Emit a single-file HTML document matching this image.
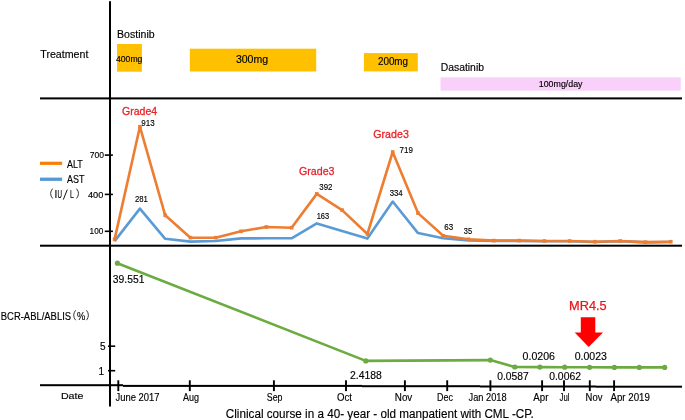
<!DOCTYPE html>
<html><head><meta charset="utf-8"><style>
html,body{margin:0;padding:0;background:#fff;width:685px;height:420px;overflow:hidden}
svg{display:block;will-change:transform}
text{font-family:"Liberation Sans",sans-serif;stroke:currentColor;stroke-width:0.15px}
</style></head><body>
<svg width="685" height="420" viewBox="0 0 685 420">
<rect width="685" height="420" fill="#fff"/>
<rect x="117.1" y="44" width="24.8" height="27.7" fill="#FFC000"/>
<rect x="189.8" y="48.7" width="126.4" height="22.8" fill="#FFC000"/>
<rect x="363.9" y="53.1" width="53.9" height="18.3" fill="#FFC000"/>
<rect x="440.5" y="77.3" width="240.3" height="13.4" fill="#F9D0FA"/>
<rect x="109" y="1.2" width="2" height="405.3" fill="#000"/>
<rect x="40" y="97.4" width="642" height="2" fill="#000"/>
<rect x="40" y="244.7" width="642" height="2" fill="#000"/>
<rect x="40" y="384.2" width="83" height="2" fill="#000"/>
<rect x="123" y="384.9" width="239" height="2" fill="#000"/>
<rect x="362" y="385.2" width="118" height="2" fill="#000"/>
<rect x="480" y="385.5" width="116" height="2" fill="#000"/>
<rect x="596" y="385.7" width="86" height="2" fill="#000"/>
<rect x="104.8" y="154.3" width="8.1" height="1.6" fill="#000"/>
<rect x="104.8" y="193.6" width="8.1" height="1.6" fill="#000"/>
<rect x="104.8" y="230.5" width="8.1" height="1.6" fill="#000"/>
<rect x="108" y="345.4" width="7.2" height="1.6" fill="#000"/>
<rect x="108" y="369.9" width="7.2" height="1.6" fill="#000"/>
<rect x="117.35" y="380.3" width="1.9" height="10.8" fill="#000"/>
<rect x="188.85" y="380.3" width="1.9" height="10.8" fill="#000"/>
<rect x="272.95" y="380.3" width="1.9" height="10.8" fill="#000"/>
<rect x="345.05" y="380.3" width="1.9" height="10.8" fill="#000"/>
<rect x="403.95" y="380.3" width="1.9" height="10.8" fill="#000"/>
<rect x="446.25" y="380.3" width="1.9" height="10.8" fill="#000"/>
<rect x="489.45" y="380.3" width="1.9" height="10.8" fill="#000"/>
<rect x="541.15" y="380.3" width="1.9" height="10.8" fill="#000"/>
<rect x="563.05" y="380.3" width="1.9" height="10.8" fill="#000"/>
<rect x="588.85" y="380.3" width="1.9" height="10.8" fill="#000"/>
<rect x="613.15" y="380.3" width="1.9" height="10.8" fill="#000"/>
<rect x="40" y="161.7" width="22.1" height="3.2" fill="#F77F05"/>
<rect x="40" y="177.6" width="22.1" height="3.3" fill="#5299D6"/>
<polyline points="114.6,241.1 139.9,208.6 165.2,238.8 190.4,241.6 215.7,241.0 241.0,238.4 266.3,238.3 291.6,238.3 316.8,223.4 342.1,231.0 367.4,238.6 392.7,201.5 418.0,233.1 443.2,238.3 468.5,240.4 493.8,240.9 519.1,240.9 544.4,241.3 569.6,241.3 594.9,242.0 620.2,241.3 645.5,242.4 670.8,242.0" fill="none" stroke="#5B9BD5" stroke-width="2.6" stroke-linejoin="round"/>
<polyline points="114.6,239.4 139.9,126.7 165.2,215.3 190.4,237.7 215.7,237.7 241.0,231.3 266.3,227.0 291.6,227.7 316.8,193.9 342.1,210.1 367.4,234.0 392.7,152.0 418.0,213.1 443.2,235.8 468.5,239.3 493.8,240.6 519.1,240.6 544.4,241.0 569.6,241.0 594.9,241.7 620.2,241.0 645.5,242.1 670.8,241.7" fill="none" stroke="#ED7D31" stroke-width="2.6" stroke-linejoin="round"/>
<rect x="112.8" y="237.6" width="3.6" height="3.6" fill="#ED7D31"/>
<rect x="138.1" y="124.9" width="3.6" height="3.6" fill="#ED7D31"/>
<rect x="163.4" y="213.5" width="3.6" height="3.6" fill="#ED7D31"/>
<rect x="188.6" y="235.9" width="3.6" height="3.6" fill="#ED7D31"/>
<rect x="213.9" y="235.9" width="3.6" height="3.6" fill="#ED7D31"/>
<rect x="239.2" y="229.5" width="3.6" height="3.6" fill="#ED7D31"/>
<rect x="264.5" y="225.2" width="3.6" height="3.6" fill="#ED7D31"/>
<rect x="289.8" y="225.9" width="3.6" height="3.6" fill="#ED7D31"/>
<rect x="315.0" y="192.1" width="3.6" height="3.6" fill="#ED7D31"/>
<rect x="340.3" y="208.3" width="3.6" height="3.6" fill="#ED7D31"/>
<rect x="365.6" y="232.2" width="3.6" height="3.6" fill="#ED7D31"/>
<rect x="390.9" y="150.2" width="3.6" height="3.6" fill="#ED7D31"/>
<rect x="416.2" y="211.3" width="3.6" height="3.6" fill="#ED7D31"/>
<rect x="441.4" y="234.0" width="3.6" height="3.6" fill="#ED7D31"/>
<rect x="466.7" y="237.5" width="3.6" height="3.6" fill="#ED7D31"/>
<rect x="492.0" y="238.8" width="3.6" height="3.6" fill="#ED7D31"/>
<rect x="517.3" y="238.8" width="3.6" height="3.6" fill="#ED7D31"/>
<rect x="542.6" y="239.2" width="3.6" height="3.6" fill="#ED7D31"/>
<rect x="567.8" y="239.2" width="3.6" height="3.6" fill="#ED7D31"/>
<rect x="593.1" y="239.9" width="3.6" height="3.6" fill="#ED7D31"/>
<rect x="618.4" y="239.2" width="3.6" height="3.6" fill="#ED7D31"/>
<rect x="643.7" y="240.3" width="3.6" height="3.6" fill="#ED7D31"/>
<rect x="669.0" y="239.9" width="3.6" height="3.6" fill="#ED7D31"/>
<polyline points="117.4,263.2 365.8,360.9 490.3,360.1 514.8,367.0 539.9,367.1 564.7,367.2 589.6,367.3 614.4,367.4 639.3,367.4 664.7,367.4" fill="none" stroke="#6BAB40" stroke-width="2.6" stroke-linejoin="round"/>
<circle cx="117.4" cy="263.2" r="2.6" fill="#6BAB40"/>
<circle cx="365.8" cy="360.9" r="2.6" fill="#6BAB40"/>
<circle cx="490.3" cy="360.1" r="2.6" fill="#6BAB40"/>
<circle cx="514.8" cy="367" r="2.6" fill="#6BAB40"/>
<circle cx="539.9" cy="367.1" r="2.6" fill="#6BAB40"/>
<circle cx="564.7" cy="367.2" r="2.6" fill="#6BAB40"/>
<circle cx="589.6" cy="367.3" r="2.6" fill="#6BAB40"/>
<circle cx="614.4" cy="367.4" r="2.6" fill="#6BAB40"/>
<circle cx="639.3" cy="367.4" r="2.6" fill="#6BAB40"/>
<circle cx="664.7" cy="367.4" r="2.6" fill="#6BAB40"/>
<polygon points="580.8,317.2 595.3,317.2 595.3,332.5 603,332.5 588.7,347 574.7,332.5 580.8,332.5" fill="#FF0000"/>
<text x="117.1" y="37.5" font-size="10" fill="#000" color="#000" textLength="37.5" lengthAdjust="spacingAndGlyphs">Bostinib</text>
<text x="40.3" y="58.1" font-size="10.5" fill="#000" color="#000" textLength="48.1" lengthAdjust="spacingAndGlyphs">Treatment</text>
<text x="116" y="61.6" font-size="8.2" fill="#000" color="#000" textLength="26.4" lengthAdjust="spacingAndGlyphs">400mg</text>
<text x="235.9" y="62.5" font-size="10.3" fill="#000" color="#000" textLength="32.2" lengthAdjust="spacingAndGlyphs">300mg</text>
<text x="378" y="64.7" font-size="10" fill="#000" color="#000" textLength="30" lengthAdjust="spacingAndGlyphs">200mg</text>
<text x="440.7" y="70.5" font-size="10" fill="#000" color="#000" textLength="43.3" lengthAdjust="spacingAndGlyphs">Dasatinib</text>
<text x="538.8" y="86.7" font-size="8.8" fill="#000" color="#000" textLength="43.7" lengthAdjust="spacingAndGlyphs">100mg/day</text>
<text x="89.8" y="157.6" font-size="9" fill="#000" color="#000" textLength="14.2" lengthAdjust="spacingAndGlyphs">700</text>
<text x="87.9" y="197.7" font-size="9" fill="#000" color="#000" textLength="15.4" lengthAdjust="spacingAndGlyphs">400</text>
<text x="89.6" y="233.7" font-size="9" fill="#000" color="#000" textLength="13.7" lengthAdjust="spacingAndGlyphs">100</text>
<text x="67.1" y="167.7" font-size="10" fill="#000" color="#000" textLength="15.7" lengthAdjust="spacingAndGlyphs">ALT</text>
<text x="67.1" y="182.7" font-size="10" fill="#000" color="#000" textLength="17.4" lengthAdjust="spacingAndGlyphs">AST</text>
<path d="M52.6,188.6 Q48.6,193.5 52.6,198.5 M76.5,188.6 Q80.5,193.5 76.5,198.5" fill="none" stroke="#222" stroke-width="0.9"/>
<text x="54.5" y="197.8" font-size="10" fill="#000" color="#000">I</text>
<text x="57.5" y="197.8" font-size="10" fill="#000" color="#000" textLength="4.5" lengthAdjust="spacingAndGlyphs">U</text>
<path d="M67.3,189.6 L63.3,199.6" fill="none" stroke="#111" stroke-width="1"/>
<text x="70.0" y="197.8" font-size="10" fill="#000" color="#000" textLength="3.8" lengthAdjust="spacingAndGlyphs">L</text>
<text x="122" y="114.7" font-size="11.5" fill="#E8232A" color="#E8232A" textLength="35.1" lengthAdjust="spacingAndGlyphs" style="stroke-width:0.3px">Grade4</text>
<text x="299" y="174.8" font-size="11.5" fill="#E8232A" color="#E8232A" textLength="35.5" lengthAdjust="spacingAndGlyphs" style="stroke-width:0.3px">Grade3</text>
<text x="373.3" y="138.4" font-size="11.5" fill="#E8232A" color="#E8232A" textLength="35.5" lengthAdjust="spacingAndGlyphs" style="stroke-width:0.3px">Grade3</text>
<text x="141.3" y="126.3" font-size="9" fill="#000" color="#000" textLength="13.4" lengthAdjust="spacingAndGlyphs">913</text>
<text x="135" y="201.9" font-size="9" fill="#000" color="#000" textLength="12.9" lengthAdjust="spacingAndGlyphs">281</text>
<text x="319.3" y="190" font-size="9" fill="#000" color="#000" textLength="13.1" lengthAdjust="spacingAndGlyphs">392</text>
<text x="316.7" y="219" font-size="9" fill="#000" color="#000" textLength="12.5" lengthAdjust="spacingAndGlyphs">163</text>
<text x="399.6" y="153.2" font-size="9" fill="#000" color="#000" textLength="13.3" lengthAdjust="spacingAndGlyphs">719</text>
<text x="389.7" y="196.1" font-size="9" fill="#000" color="#000" textLength="13" lengthAdjust="spacingAndGlyphs">334</text>
<text x="444.2" y="230.4" font-size="9" fill="#000" color="#000" textLength="8.9" lengthAdjust="spacingAndGlyphs">63</text>
<text x="463.8" y="233.8" font-size="9" fill="#000" color="#000" textLength="8.3" lengthAdjust="spacingAndGlyphs">35</text>
<text x="0.8" y="319.7" font-size="10" fill="#000" color="#000" textLength="70.3" lengthAdjust="spacingAndGlyphs">BCR-ABL/ABLIS</text>
<path d="M75.6,310.3 Q71.8,315.2 75.6,320.2 M86.5,310.3 Q90.3,315.2 86.5,320.2" fill="none" stroke="#222" stroke-width="0.9"/>
<text x="77.0" y="319.7" font-size="10" fill="#000" color="#000" textLength="8.3" lengthAdjust="spacingAndGlyphs">%</text>
<text x="112.8" y="282.8" font-size="10.2" fill="#000" color="#000" textLength="31.6" lengthAdjust="spacingAndGlyphs">39.551</text>
<text x="350" y="379.1" font-size="10.2" fill="#000" color="#000" textLength="31.8" lengthAdjust="spacingAndGlyphs">2.4188</text>
<text x="497.2" y="380" font-size="10.2" fill="#000" color="#000" textLength="31.5" lengthAdjust="spacingAndGlyphs">0.0587</text>
<text x="522.6" y="360" font-size="10.2" fill="#000" color="#000" textLength="32.4" lengthAdjust="spacingAndGlyphs">0.0206</text>
<text x="549.2" y="379.7" font-size="10.2" fill="#000" color="#000" textLength="31.8" lengthAdjust="spacingAndGlyphs">0.0062</text>
<text x="574.7" y="360" font-size="10.2" fill="#000" color="#000" textLength="32.2" lengthAdjust="spacingAndGlyphs">0.0023</text>
<text x="99.9" y="349.8" font-size="10" fill="#000" color="#000">5</text>
<text x="98.6" y="374.8" font-size="10" fill="#000" color="#000">1</text>
<text x="569.1" y="310.4" font-size="13" fill="#EE1418" color="#EE1418" textLength="37.6" lengthAdjust="spacingAndGlyphs" style="stroke-width:0.25px">MR4.5</text>
<text x="60.9" y="398.8" font-size="9.6" fill="#000" color="#000" textLength="22.5" lengthAdjust="spacingAndGlyphs">Date</text>
<text x="115.6" y="400.6" font-size="10.2" fill="#000" color="#000" textLength="43.9" lengthAdjust="spacingAndGlyphs">June 2017</text>
<text x="183.1" y="400.6" font-size="10.2" fill="#000" color="#000" textLength="16.0" lengthAdjust="spacingAndGlyphs">Aug</text>
<text x="266.8" y="400.6" font-size="10.2" fill="#000" color="#000" textLength="15.7" lengthAdjust="spacingAndGlyphs">Sep</text>
<text x="336.9" y="400.6" font-size="10.2" fill="#000" color="#000" textLength="15.0" lengthAdjust="spacingAndGlyphs">Oct</text>
<text x="394.8" y="400.6" font-size="10.2" fill="#000" color="#000" textLength="17.5" lengthAdjust="spacingAndGlyphs">Nov</text>
<text x="437.1" y="400.6" font-size="10.2" fill="#000" color="#000" textLength="15.9" lengthAdjust="spacingAndGlyphs">Dec</text>
<text x="468.5" y="400.6" font-size="10.2" fill="#000" color="#000" textLength="38.1" lengthAdjust="spacingAndGlyphs">Jan 2018</text>
<text x="533.3" y="400.6" font-size="10.2" fill="#000" color="#000" textLength="15.1" lengthAdjust="spacingAndGlyphs">Apr</text>
<text x="559.6" y="400.6" font-size="10.2" fill="#000" color="#000" textLength="9.9" lengthAdjust="spacingAndGlyphs">Jul</text>
<text x="585.6" y="400.6" font-size="10.2" fill="#000" color="#000" textLength="16.8" lengthAdjust="spacingAndGlyphs">Nov</text>
<text x="610.5" y="400.6" font-size="10.2" fill="#000" color="#000" textLength="39.4" lengthAdjust="spacingAndGlyphs">Apr 2019</text>
<text x="225.8" y="417.6" font-size="12.5" fill="#000" color="#000" textLength="308" lengthAdjust="spacingAndGlyphs">Clinical course in a 40- year - old manpatient with CML -CP.</text>
</svg>
</body></html>
